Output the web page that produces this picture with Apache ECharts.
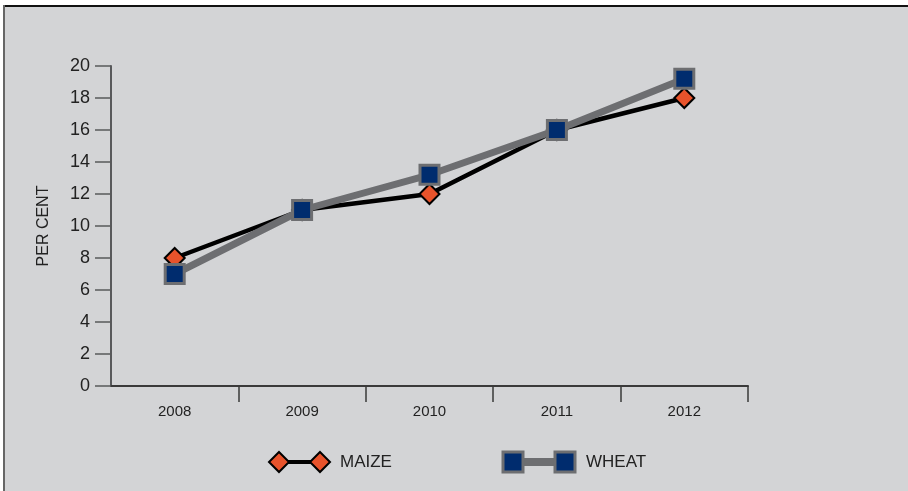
<!DOCTYPE html>
<html>
<head>
<meta charset="utf-8">
<script src="https://cdn.jsdelivr.net/npm/echarts@6/dist/echarts.min.js"></script>
<style>
  html, body { margin: 0; padding: 0; background: #ffffff; }
  #chart { width: 908px; height: 491px; }
</style>
</head>
<body>
<div id="chart"></div>
<script>
// Share of production, per cent
const years = ['2008', '2009', '2010', '2011', '2012'];
const maize = [8, 11, 12, 16, 18];
const wheat = [7, 11, 13.2, 16, 19.2];
const yTicks = { min: 0, max: 20, interval: 2 };

const FONT = '"Liberation Sans", Arial, sans-serif';
const ORANGE = '#e8532b';
const NAVY = '#002c6e';
const GREY = '#6d6e71';

const chart = echarts.init(document.getElementById('chart'), null, { renderer: 'canvas' });

function diamond(cx, cy, r) {
  return [[cx, cy - r], [cx + r, cy], [cx, cy + r], [cx - r, cy]];
}

chart.setOption({
  backgroundColor: '#d3d4d6',
  animation: false,
  textStyle: { fontFamily: FONT },
  grid: { left: 111, right: 160, top: 66, bottom: 105, containLabel: false },
  xAxis: {
    type: 'category',
    data: years,
    boundaryGap: true,
    axisLine: { lineStyle: { color: '#3a3a3a', width: 2 } },
    axisTick: {
      show: true,
      length: 16,
      interval: function (index) { return index !== 0; },
      lineStyle: { color: '#3a3a3a', width: 1.5 }
    },
    axisLabel: { color: '#222', fontSize: 15, margin: 18, fontFamily: FONT },
    splitLine: { show: false }
  },
  yAxis: {
    type: 'value',
    min: yTicks.min,
    max: yTicks.max,
    interval: yTicks.interval,
    name: 'PER CENT',
    nameLocation: 'middle',
    nameRotate: 90,
    nameGap: 59,
    nameTextStyle: { color: '#222', fontSize: 16, fontFamily: FONT },
    axisLine: { show: true, lineStyle: { color: '#58595b', width: 2 } },
    axisTick: { show: true, length: 16, lineStyle: { color: '#58595b', width: 1.5 } },
    axisLabel: { color: '#222', fontSize: 18, margin: 21, fontFamily: FONT },
    splitLine: { show: false }
  },
  series: [
    {
      name: 'MAIZE',
      type: 'line',
      data: maize,
      z: 2,
      symbol: 'diamond',
      symbolSize: 20,
      showAllSymbol: true,
      lineStyle: { color: '#000000', width: 4.5 },
      itemStyle: { color: ORANGE, borderColor: '#000000', borderWidth: 2 }
    },
    {
      name: 'WHEAT',
      type: 'line',
      data: wheat,
      z: 3,
      symbol: 'rect',
      symbolSize: 19,
      showAllSymbol: true,
      lineStyle: { color: GREY, width: 7 },
      itemStyle: { color: NAVY, borderColor: GREY, borderWidth: 3 }
    }
  ],
  graphic: [
    // frame edges
    { type: 'rect', shape: { x: 0, y: 0, width: 908, height: 5 }, style: { fill: '#ffffff' }, z: 0 },
    { type: 'rect', shape: { x: 0, y: 0, width: 3, height: 491 }, style: { fill: '#ffffff' }, z: 0 },
    { type: 'rect', shape: { x: 3, y: 5, width: 905, height: 2 }, style: { fill: '#111111' }, z: 0 },
    { type: 'rect', shape: { x: 3, y: 5, width: 2, height: 486 }, style: { fill: '#666666' }, z: 0 },
    // legend: maize
    { type: 'line', shape: { x1: 279, y1: 462, x2: 320, y2: 462 }, style: { stroke: '#000', lineWidth: 4 }, z: 5 },
    { type: 'polygon', shape: { points: diamond(279, 462, 10) }, style: { fill: ORANGE, stroke: '#000', lineWidth: 2 }, z: 6 },
    { type: 'polygon', shape: { points: diamond(320, 462, 10) }, style: { fill: ORANGE, stroke: '#000', lineWidth: 2 }, z: 6 },
    { type: 'text', x: 340, y: 462, style: { text: 'MAIZE', fill: '#222', font: '17px ' + FONT, textVerticalAlign: 'middle', verticalAlign: 'middle' }, z: 6 },
    // legend: wheat
    { type: 'line', shape: { x1: 513, y1: 462, x2: 565, y2: 462 }, style: { stroke: GREY, lineWidth: 8 }, z: 5 },
    { type: 'rect', shape: { x: 503, y: 452, width: 20, height: 20 }, style: { fill: NAVY, stroke: GREY, lineWidth: 3 }, z: 6 },
    { type: 'rect', shape: { x: 555, y: 452, width: 20, height: 20 }, style: { fill: NAVY, stroke: GREY, lineWidth: 3 }, z: 6 },
    { type: 'text', x: 586, y: 462, style: { text: 'WHEAT', fill: '#222', font: '17px ' + FONT, textVerticalAlign: 'middle', verticalAlign: 'middle' }, z: 6 }
  ]
});
</script>
</body>
</html>
